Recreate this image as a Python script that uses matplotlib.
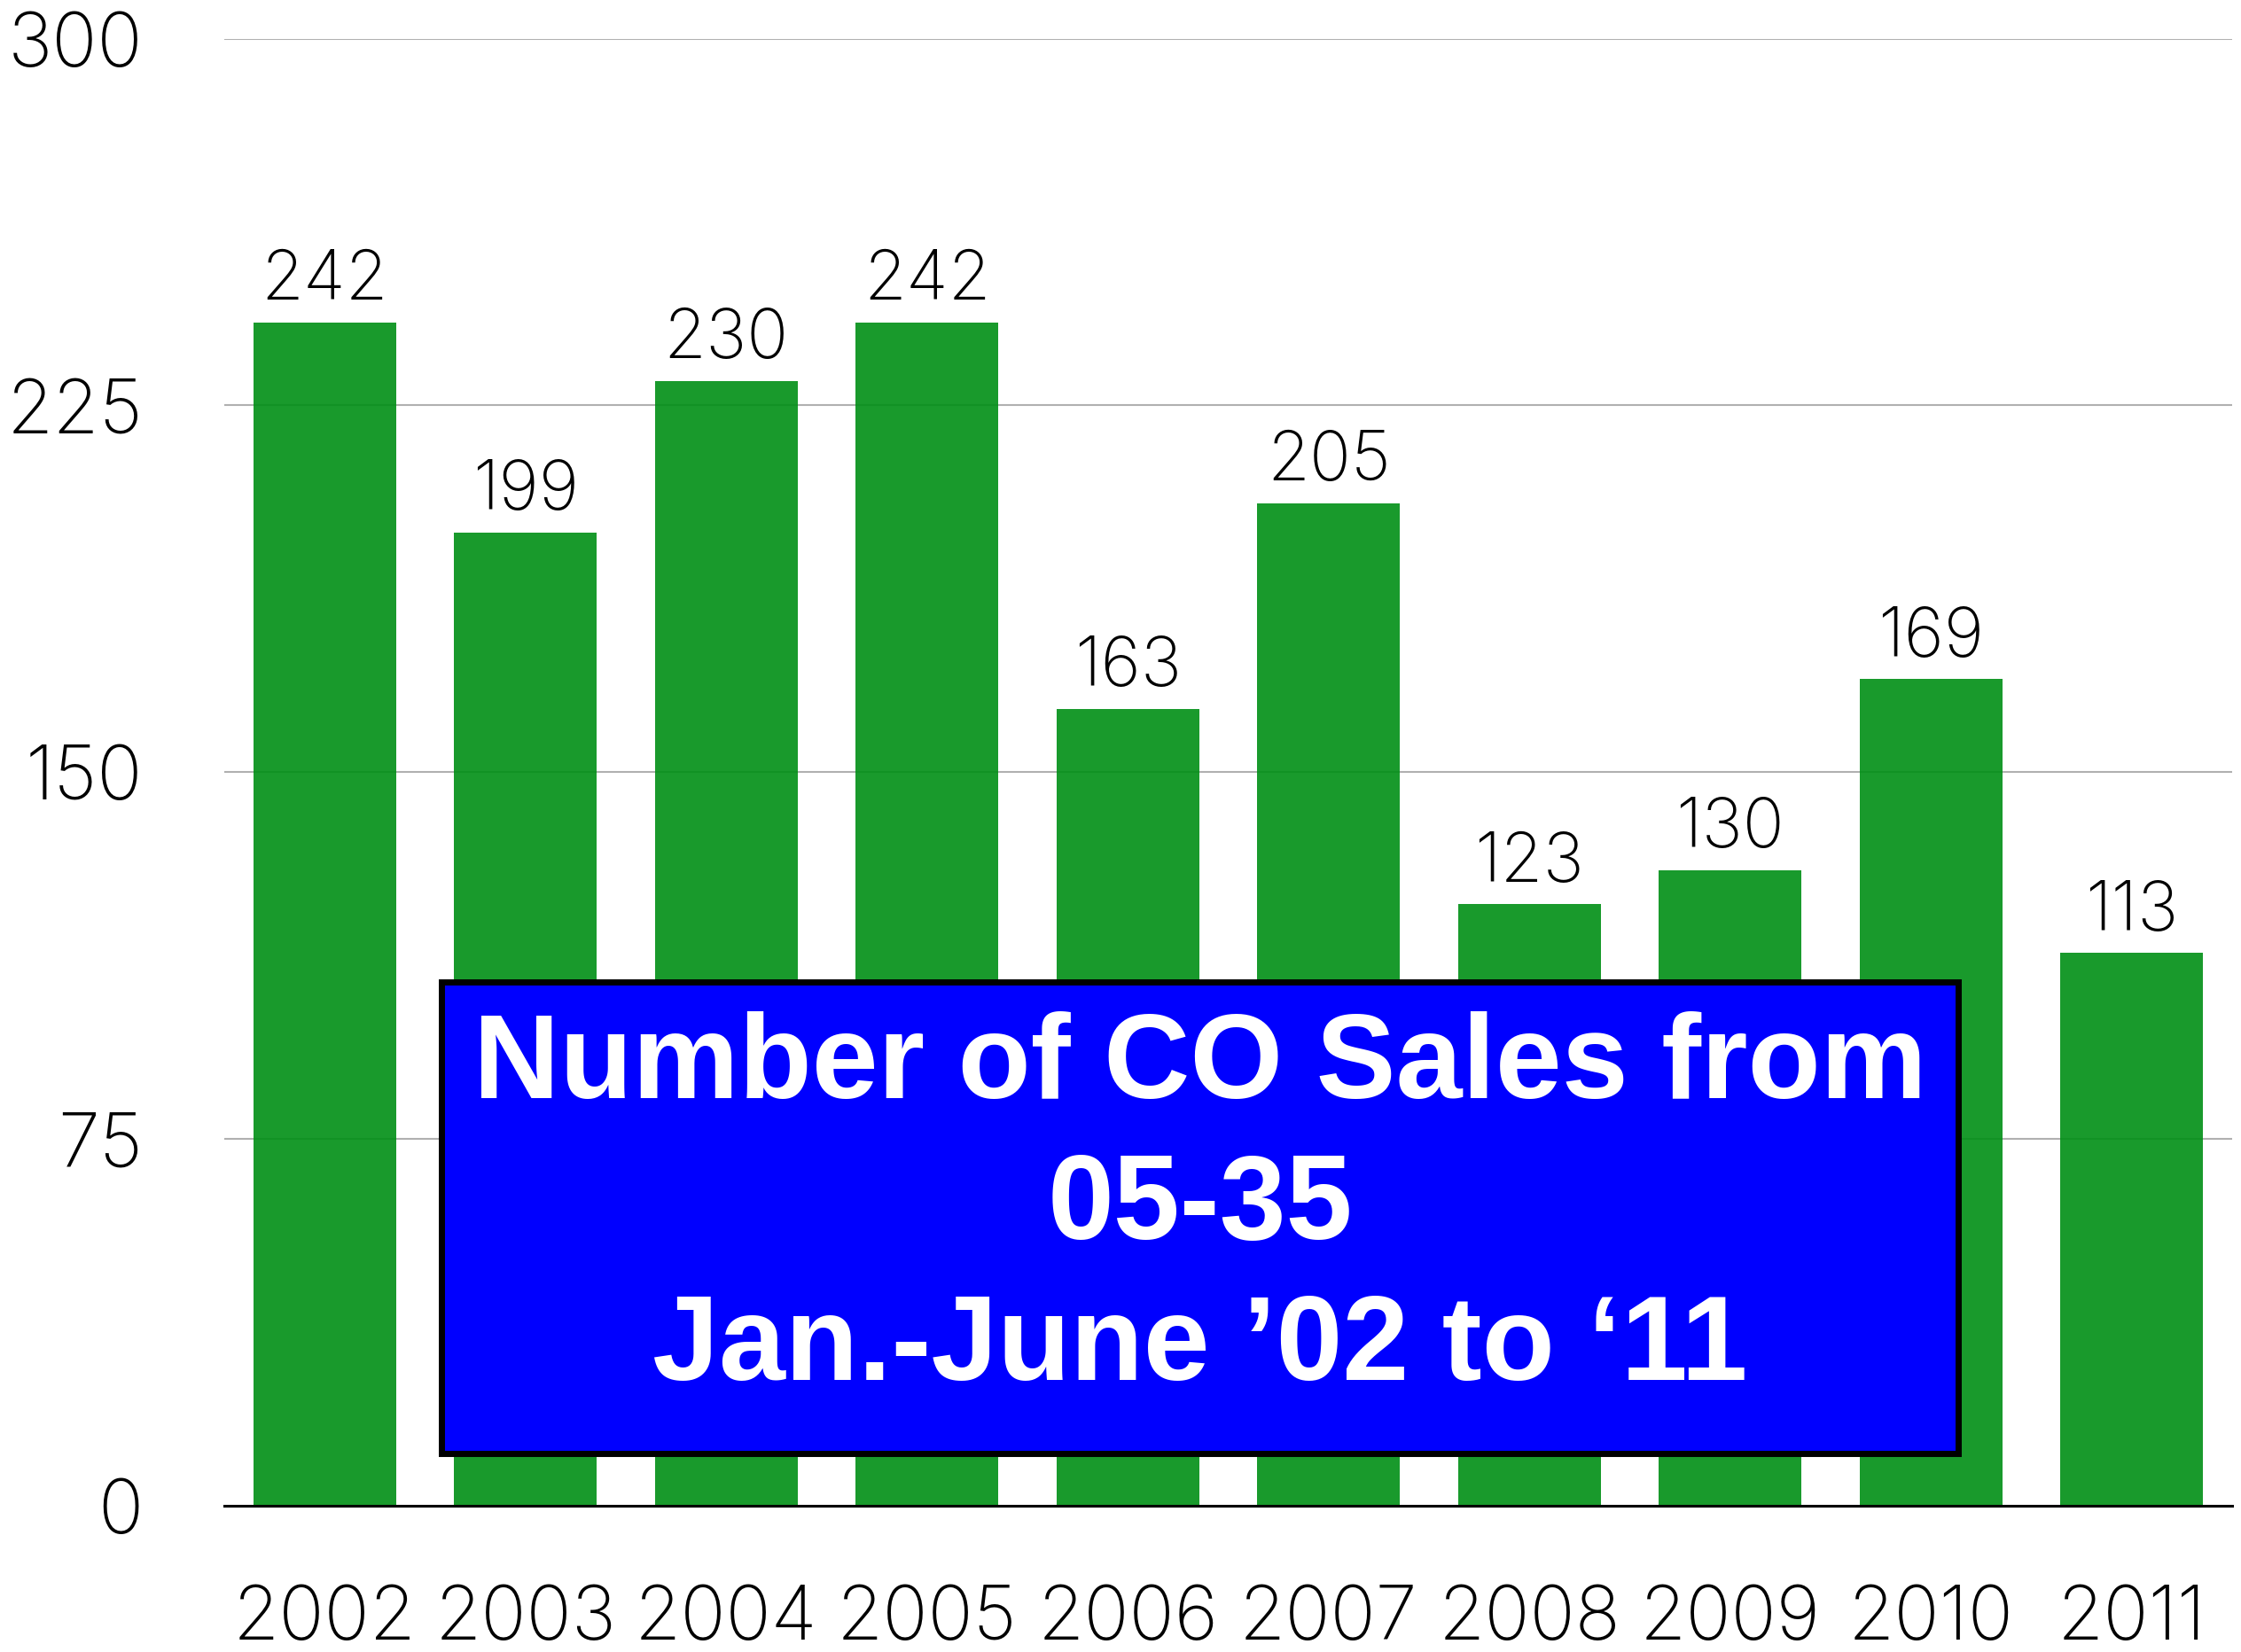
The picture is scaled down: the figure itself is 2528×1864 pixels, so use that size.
import matplotlib
matplotlib.use("Agg")
import matplotlib.pyplot as plt
from matplotlib.patches import Rectangle

years = ["2002", "2003", "2004", "2005", "2006", "2007", "2008", "2009", "2010", "2011"]
sales = [242, 199, 230, 242, 163, 205, 123, 130, 169, 113]
yticks = [0, 75, 150, 225, 300]
title_lines = ["Number of CO Sales from", "05-35", "Jan.-June \u201902 to \u201811"]

W, H = 2528, 1864
fig = plt.figure(figsize=(W / 100, H / 100), dpi=100)
ax = fig.add_axes([253 / W, (H - 1699) / H, (2518 - 253) / W, (1699 - 43.5) / H])

light = dict(family=["Inter", "DejaVu Sans"], fontweight="light")

x = range(len(years))
ax.bar(x, sales, width=0.71, color=(0, 143 / 255, 21 / 255), alpha=0.9, zorder=2)
for xi, v in zip(x, sales):
    ax.annotate(str(v), (xi, v), xytext=(0, 7), textcoords="offset points",
                ha="center", va="bottom", fontsize=56, color="black", **light)

ax.set_xlim(-0.5, len(years) - 0.5)
ax.set_ylim(0, 300)
ax.set_yticks(yticks)
ax.set_yticklabels([str(t) for t in yticks], fontsize=61, **light)
ax.set_xticks(list(x))
ax.set_xticklabels(years, fontsize=61, **light)
ax.tick_params(axis="y", length=0, pad=66)
ax.tick_params(axis="x", length=0, pad=64)

ax.grid(axis="y", color="#b0b0b0", linewidth=1.5, zorder=0)
ax.set_axisbelow(True)
for s in ["top", "right", "left"]:
    ax.spines[s].set_visible(False)
ax.spines["bottom"].set_linewidth(2.2)
ax.spines["bottom"].set_zorder(3)

# title box overlaid on the bars
bx0, bx1, by0, by1 = 498, 2209, 1108, 1640
fig.patches.append(Rectangle((bx0 / W, (H - by1) / H), (bx1 - bx0) / W, (by1 - by0) / H,
                             transform=fig.transFigure, facecolor="#0000ff",
                             edgecolor="black", linewidth=5, zorder=5))
fig.text(1354 / W, (H - 1363) / H, "\n".join(title_lines), ha="center", va="center",
         color="white", fontsize=97, fontweight="bold", linespacing=1.34,
         family=["Liberation Sans", "DejaVu Sans"], zorder=6)

fig.savefig("out.png", dpi=100)
